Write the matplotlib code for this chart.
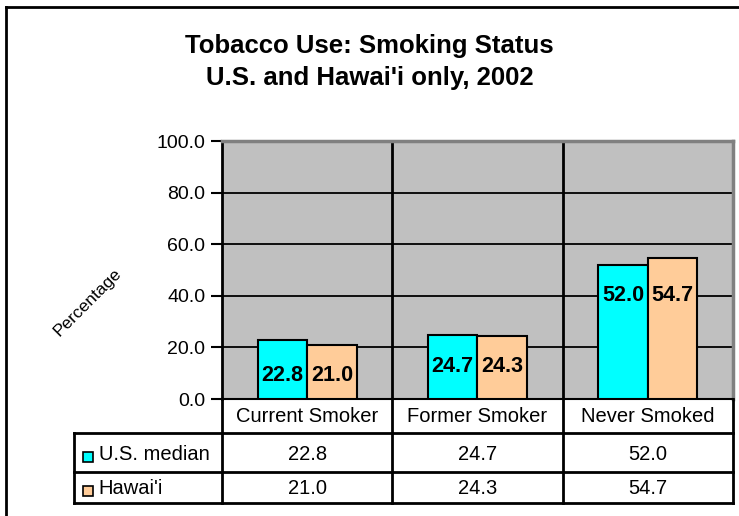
import matplotlib
matplotlib.use("Agg")
import matplotlib.pyplot as plt
import numpy as np
from matplotlib.patches import Rectangle
from matplotlib.lines import Line2D

plt.rcParams['font.family'] = ['Liberation Sans', 'DejaVu Sans']

categories = ['Current Smoker', 'Former Smoker', 'Never Smoked']
series_names = ['U.S. median', "Hawai'i"]
us_median = [22.8, 24.7, 52.0]
hawaii = [21.0, 24.3, 54.7]
yticks = [0, 20, 40, 60, 80, 100]

colors = ['#00FFFF', '#FFCC99']
W, H = 739, 516


def frac(left, top, right, bottom):
    # pixel box -> figure fraction [x, y, w, h]
    return [left / W, (H - bottom) / H, (right - left) / W, (bottom - top) / H]


fig = plt.figure(figsize=(W / 100, H / 100), dpi=100)

# outer chart border: only the left and top edges fall inside the image
bx, by = 6 / W, (H - 7) / H
fig.add_artist(Line2D([bx, bx], [0, by], transform=fig.transFigure, color='black', linewidth=2))
fig.add_artist(Line2D([bx, 1], [by, by], transform=fig.transFigure, color='black', linewidth=2))

fig.text(0.5, (H - 46) / H, 'Tobacco Use: Smoking Status', ha='center', va='center',
         fontsize=18.5, fontweight='bold')
fig.text(0.5, (H - 78) / H, "U.S. and Hawai'i only, 2002", ha='center', va='center',
         fontsize=18.5, fontweight='bold')

ax = fig.add_axes(frac(222, 141, 733, 399))
ax.set_facecolor('#C0C0C0')

x = np.arange(len(categories))
width = 0.29
b1 = ax.bar(x - width / 2, us_median, width, color=colors[0], edgecolor='black', linewidth=1.5, zorder=3)
b2 = ax.bar(x + width / 2, hawaii, width, color=colors[1], edgecolor='black', linewidth=1.5, zorder=3)

# value labels inside the bars, level within each group
for i in range(len(categories)):
    base = min(us_median[i], hawaii[i])
    for xi, v in [(x[i] - width / 2, us_median[i]), (x[i] + width / 2, hawaii[i])]:
        ax.annotate(f'{v:.1f}', (xi, base), xytext=(0, -22), textcoords='offset points',
                    ha='center', va='center', fontsize=15.5, fontweight='bold', zorder=4)

ax.set_xlim(-0.5, len(categories) - 0.5)
ax.set_ylim(0, 100)
ax.set_yticks(yticks)
ax.set_yticklabels([f'{t:.1f}' for t in yticks], fontsize=14)
ax.tick_params(axis='y', direction='out', length=8, width=1.5, pad=4)
ax.set_xticks([])
ax.yaxis.grid(True, color='black', linewidth=1.3, zorder=1)
ax.set_axisbelow(True)
for b in [0.5, 1.5]:
    ax.axvline(b, color='black', linewidth=2, zorder=2)
ax.spines['left'].set_linewidth(2)
ax.spines['bottom'].set_linewidth(1.5)
ax.spines['top'].set_color('#808080')
ax.spines['right'].set_color('#808080')
ax.spines['top'].set_linewidth(2.5)
ax.spines['right'].set_linewidth(2.5)

fig.text(88 / W, (H - 302) / H, 'Percentage', rotation=45, ha='center', va='center', fontsize=12.5)

# data table under the plot
tab = fig.add_axes(frac(222, 399, 733, 503))
tab.set_xlim(-0.5, len(categories) - 0.5)
tab.set_ylim(503, 399)
tab.axis('off')
left_edge = -0.5 - (222 - 74) / (511 / len(categories))
right_edge = len(categories) - 0.5

lk = dict(color='black', linewidth=2, clip_on=False)
tab.plot([-0.5, -0.5], [399, 503], **lk)
for b in [0.5, 1.5]:
    tab.plot([b, b], [399, 503], **lk)
tab.plot([right_edge, right_edge], [399, 503], **lk)
tab.plot([left_edge, left_edge], [433, 503], **lk)
for yy in [433, 472, 503]:
    tab.plot([left_edge, right_edge], [yy, yy], **lk)

for i, c in enumerate(categories):
    tab.text(i, 416, c, ha='center', va='center', fontsize=14.5)

row_y = [455, 489]
for r, (name, vals) in enumerate(zip(series_names, [us_median, hawaii])):
    tab.add_patch(Rectangle((left_edge + 0.05, row_y[r] - 3), 0.06, 10, facecolor=colors[r],
                            edgecolor='black', linewidth=1.2, clip_on=False))
    tab.text(left_edge + 0.145, row_y[r], name, ha='left', va='center', fontsize=14.5)
    for i, v in enumerate(vals):
        tab.text(i, row_y[r], f'{v:.1f}', ha='center', va='center', fontsize=14.5)

fig.savefig('out.png', dpi=100)
